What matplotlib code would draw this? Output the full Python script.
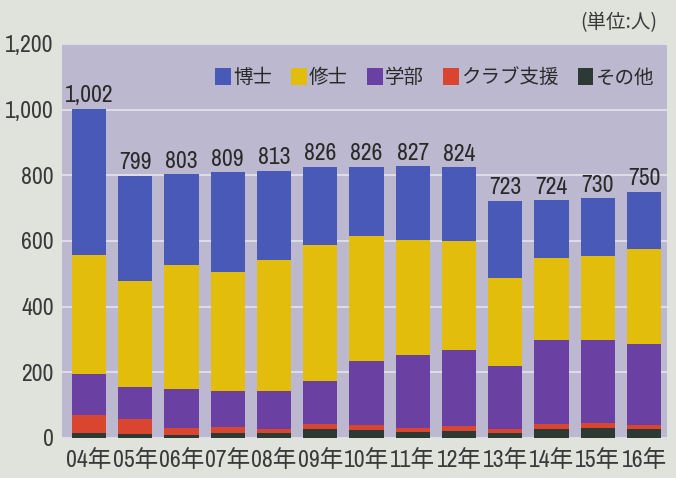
import matplotlib
matplotlib.use("Agg")
import matplotlib.pyplot as plt
from matplotlib import font_manager
import numpy as np

# values (unit: persons)
years = ["04年", "05年", "06年", "07年", "08年", "09年", "10年",
         "11年", "12年", "13年", "14年", "15年", "16年"]
sonota = [15, 11, 10, 15, 16, 26, 23, 17, 21, 15, 26, 29, 26]
club = [56, 46, 20, 18, 12, 16, 15, 14, 14, 13, 16, 15, 13]
gakubu = [124, 99, 120, 109, 115, 130, 197, 222, 233, 192, 255, 254, 246]
shushi = [362, 321, 376, 363, 399, 415, 380, 349, 332, 267, 251, 256, 290]
hakushi = [445, 322, 277, 304, 271, 239, 211, 225, 224, 236, 176, 176, 175]
totals = [1002, 799, 803, 809, 813, 826, 826, 827, 824, 723, 724, 730, 750]

series = [
    ("その他", sonota, "#2d3a33"),
    ("クラブ支援", club, "#d9452e"),
    ("学部", gakubu, "#6a40a3"),
    ("修士", shushi, "#e3bd0c"),
    ("博士", hakushi, "#4959b7"),
]

# the print uses a narrow grotesque for the numbers; take a narrow face if one exists
narrow = None
stretch = "normal"
for f in font_manager.fontManager.ttflist:
    if "Narrow" in f.name:
        narrow = f.name
        break
if narrow is None:
    for f in font_manager.fontManager.ttflist:
        if "Condensed" in f.fname and "Bold" not in f.fname and "Oblique" not in f.fname:
            narrow = f.name
            stretch = "condensed"
            break
if narrow is None:
    narrow = "Liberation Sans"

NUM_FONT = [narrow, "Noto Sans CJK JP"]
plt.rcParams["font.family"] = NUM_FONT
plt.rcParams["font.stretch"] = stretch

fig = plt.figure(figsize=(6.76, 4.78), dpi=100, facecolor="#e0e3dc")
ax = fig.add_axes([0.092, 0.084, 0.895, 0.824])
ax.set_facecolor("#bcb8cf")

x = np.arange(len(years))
bottom = np.zeros(len(years))
handles = {}
for name, vals, color in series:
    bars = ax.bar(x, vals, 0.74, bottom=bottom, color=color, zorder=3,
                  edgecolor="none")
    handles[name] = bars
    bottom += np.array(vals)

for xi, top, total in zip(x, bottom, totals):
    ax.text(xi, top + 8, f"{total:,}", ha="center", va="bottom",
            fontsize=17, color="#2a2a2a", zorder=4)

ax.set_ylim(0, 1200)
ax.set_xlim(-0.58, 12.5)
ax.set_yticks(range(0, 1201, 200))
ax.set_yticklabels([f"{v:,}" for v in range(0, 1201, 200)])
ax.set_xticks(x)
ax.set_xticklabels(years)
ax.tick_params(length=0, labelsize=17, colors="#3a3a3a")
ax.tick_params(axis="y", pad=6)
ax.tick_params(axis="x", pad=8)
ax.grid(axis="y", color="#e6e4ee", linewidth=1.2, zorder=1)
for s in ax.spines.values():
    s.set_visible(False)

order = ["博士", "修士", "学部", "クラブ支援", "その他"]
ax.legend([handles[n] for n in order], order, ncol=5, frameon=False,
          loc="upper right", bbox_to_anchor=(1.0, 0.975),
          handlelength=0.8, handleheight=1.0, handletextpad=0.1,
          columnspacing=1.0, prop={"family": ["Noto Sans CJK JP"], "size": 14},
          labelcolor="#2a2a2a", borderaxespad=0.3)

fig.text(0.973, 0.952, "(単位:人)", ha="right", va="center", fontsize=14,
         color="#3a3a3a", family=["Noto Sans CJK JP"])

fig.savefig("out.png", dpi=100, facecolor=fig.get_facecolor())
